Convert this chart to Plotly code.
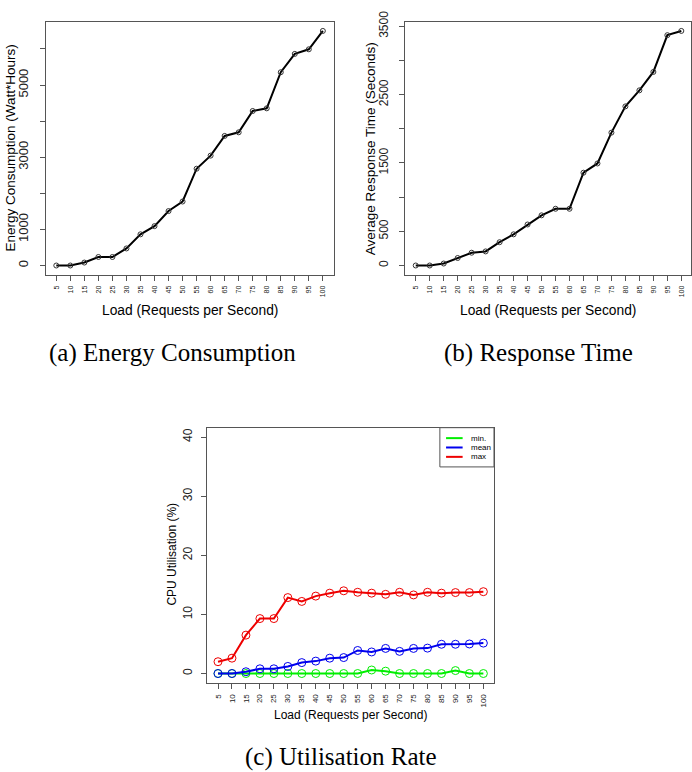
import plotly.graph_objects as go

# ---------------- data ----------------
loads = [5, 10, 15, 20, 25, 30, 35, 40, 45, 50, 55, 60, 65, 70, 75, 80, 85, 90, 95, 100]
energy_wh = [0, 0, 82, 236, 236, 473, 864, 1091, 1509, 1773, 2682, 3045, 3591, 3691,
             4282, 4355, 5355, 5864, 5991, 6500]
response_s = [0, 0, 29, 110, 187, 206, 341, 456, 600, 734, 830, 830, 1358, 1493,
              1944, 2328, 2563, 2832, 3370, 3432]
cpu_min = [0, 0, 0, 0, 0, 0, 0, 0, 0, 0, 0, 0.6, 0.4, 0, 0, 0, 0, 0.5, 0, 0]
cpu_mean = [0, 0, 0.3, 0.8, 0.8, 1.2, 1.85, 2.1, 2.6, 2.7, 3.9, 3.65, 4.25, 3.75,
            4.25, 4.3, 4.95, 4.95, 5.0, 5.15]
cpu_max = [2.0, 2.6, 6.5, 9.3, 9.3, 12.85, 12.2, 13.1, 13.6, 14.0, 13.75, 13.6, 13.4,
           13.75, 13.3, 13.75, 13.6, 13.7, 13.7, 13.85]

cpu_names = ["min.", "mean", "max"]
cpu_colors = ["#00ee00", "#0000ee", "#ee0000"]

energy_ticks = [0, 1000, 2000, 3000, 4000, 5000, 6000]
energy_ticktext = ["0", "1000", "", "3000", "", "5000", ""]
response_ticks = [0, 500, 1000, 1500, 2000, 2500, 3000, 3500]
response_ticktext = ["0", "500", "", "1500", "", "2500", "", "3500"]
cpu_ticks = [0, 10, 20, 30, 40]
cpu_ticktext = ["0", "10", "20", "30", "40"]

W, H = 692, 772
SANS = "Liberation Sans, Arial, sans-serif"
SERIF = "Liberation Serif, Times New Roman, serif"
FRAME = "#555555"


def px(x):
    return x / W


def py(y):
    return 1 - y / H


fig = go.Figure()

# (a) energy
fig.add_trace(go.Scatter(x=loads, y=energy_wh, mode="lines+markers",
                         line=dict(color="black", width=2),
                         marker=dict(symbol="circle-open", size=5, color="#333333",
                                     line=dict(width=1)),
                         xaxis="x", yaxis="y", showlegend=False))
# (b) response time
fig.add_trace(go.Scatter(x=loads, y=response_s, mode="lines+markers",
                         line=dict(color="black", width=2),
                         marker=dict(symbol="circle-open", size=5, color="#333333",
                                     line=dict(width=1)),
                         xaxis="x2", yaxis="y2", showlegend=False))
# (c) cpu utilisation
for name, vals, col in zip(cpu_names, [cpu_min, cpu_mean, cpu_max], cpu_colors):
    fig.add_trace(go.Scatter(x=loads, y=vals, mode="lines+markers", name=name,
                             line=dict(color=col, width=2),
                             marker=dict(symbol="circle-open", size=8, color=col,
                                         line=dict(width=1)),
                             xaxis="x3", yaxis="y3", showlegend=False))

xcommon = dict(tickmode="array", tickvals=loads, ticktext=[str(v) for v in loads],
               tickangle=-90, ticks="outside", ticklen=5, tickcolor=FRAME,
               showline=True, linecolor=FRAME, linewidth=1, mirror=True,
               showgrid=False, zeroline=False, ticklabelstandoff=2,
               tickfont=dict(size=7, family=SANS, color="#222"))
ycommon = dict(tickmode="array", tickangle=-90, ticks="outside", ticklen=5, tickcolor=FRAME,
               showline=True, linecolor=FRAME, linewidth=1, mirror=True,
               showgrid=False, zeroline=False, ticklabelstandoff=6,
               tickfont=dict(size=13, family=SANS, color="#222"))

fig.update_layout(
    width=W, height=H, margin=dict(l=0, r=0, t=0, b=0),
    paper_bgcolor="white", plot_bgcolor="white", showlegend=False,
    xaxis=dict(xcommon, domain=[px(45.7), px(334)], range=[1.2, 103.8], anchor="y"),
    yaxis=dict(ycommon, domain=[py(267.7), py(10.7)], range=[-260, 6760],
               tickvals=energy_ticks, ticktext=energy_ticktext, anchor="x"),
    xaxis2=dict(xcommon, domain=[px(405.7), 1.0], range=[1.2, 103.46], anchor="y2"),
    yaxis2=dict(ycommon, domain=[py(267.7), py(10.7)], range=[-137.3, 3569.3],
                tickvals=response_ticks, ticktext=response_ticktext, anchor="x2",
                tickfont=dict(size=12, family=SANS, color="#222")),
    xaxis3=dict(xcommon, domain=[px(207.7), px(494.7)], range=[1.2, 103.8], anchor="y3",
                tickfont=dict(size=8, family=SANS, color="#222")),
    yaxis3=dict(ycommon, domain=[py(681.7), py(422.7)], range=[-1.6, 41.6],
                tickvals=cpu_ticks, ticktext=cpu_ticktext, anchor="x3",
                ticklabelstandoff=5, tickfont=dict(size=12, family=SANS, color="#222")),
)

ann = []


def add_text(text, x, y, size, family=SANS, angle=0, xanchor="center"):
    ann.append(dict(text=text, x=px(x), y=py(y), xref="paper", yref="paper",
                    showarrow=False, textangle=angle, xanchor=xanchor, yanchor="middle",
                    font=dict(size=size, family=family, color="black")))


# axis titles
add_text("Energy Consumption (Watt*Hours)", 10.5, 139, 13.5, angle=-90)
add_text("Load (Requests per Second)", 190, 304, 13.8)
add_text("Average Response Time (Seconds)", 370.7, 140, 13.5, angle=-90)
add_text("Load (Requests per Second)", 549, 304, 13.8)
add_text("CPU Utilisation (%)", 172.7, 551, 12, angle=-90)
add_text("Load (Requests per Second)", 351, 714, 12)

# captions
add_text("(a) Energy Consumption", 173, 347, 25, family=SERIF)
add_text("(b) Response Time", 539.5, 347, 25, family=SERIF)
add_text("(c) Utilisation Rate", 341, 757, 25, family=SERIF)

# legend for (c)
shapes = [dict(type="rect", xref="paper", yref="paper", x0=px(440.5), x1=px(494.7),
               y0=py(462.5), y1=py(422.7), line=dict(color=FRAME, width=1),
               fillcolor="white", layer="above")]
rows_y = [433.3, 442.8, 452.3]
for name, col, ry in zip(cpu_names, cpu_colors, rows_y):
    shapes.append(dict(type="line", xref="paper", yref="paper", x0=px(446.7), x1=px(463.3),
                       y0=py(ry), y1=py(ry), line=dict(color=col, width=2), layer="above"))
    add_text(name, 469.5, ry, 8, xanchor="left")

fig.update_layout(annotations=ann, shapes=shapes)

fig.write_html("out.html",
               config={"displayModeBar": False},
               post_script="document.body.style.margin='0';"
                           "document.body.style.overflow='hidden';")
